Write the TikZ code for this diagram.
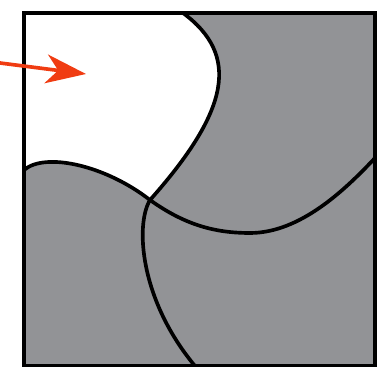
\documentclass[tikz,border=0pt]{standalone}
\usepackage{tikz}
\usetikzlibrary{arrows.meta, calc}

\definecolor{regiongray}{RGB}{146,147,150}
\definecolor{arrowred}{RGB}{240,60,18}

\tikzset{
  cutline/.style={black, line width=2.6pt},
  pointer/.style={arrowred, line width=2.6pt,
    -{Stealth[length=1.0cm, width=0.72cm, inset=0.3cm]}}
}

\begin{document}
\begin{tikzpicture}[x=0.025cm, y=-0.025cm]
      \useasboundingbox (0,0) rectangle (378,367);
      % Corners and crossing points
      \coordinate (tl) at (24,13);
      \coordinate (br) at (375,366);
      \coordinate (topA) at (183,13);
      \coordinate (botA) at (195,366);
      \coordinate (leftB) at (24,170);
      \coordinate (rightB) at (375,158);
      \coordinate (lowB) at (250,233);
      \coordinate (cross) at (150,200);

      % Regions
      \fill[regiongray] (tl) rectangle (br);
      \fill[white] (tl) -- (topA) .. controls (240,55) and (230,110) .. (cross)
            .. controls (105,165) and (45,152) .. (leftB) -- cycle;

      % Cut lines
      \draw[cutline] (topA) .. controls (240,55) and (230,110) .. (cross)
            .. controls (135,225) and (140,300) .. (botA);
      \draw[cutline] (leftB) .. controls (45,152) and (105,165) .. (cross)
            .. controls (185,225) and (215,233) .. (lowB)
            .. controls (300,233) and (345,190) .. (rightB);

      % Frame
      \draw[line width=2.6pt] (tl) rectangle (br);

      % Arrow into the white region
      \coordinate (tail) at (0,63);
      \coordinate (tip) at (86,74);
      \draw[pointer] (tail) -- (tip);
\end{tikzpicture}
\end{document}
